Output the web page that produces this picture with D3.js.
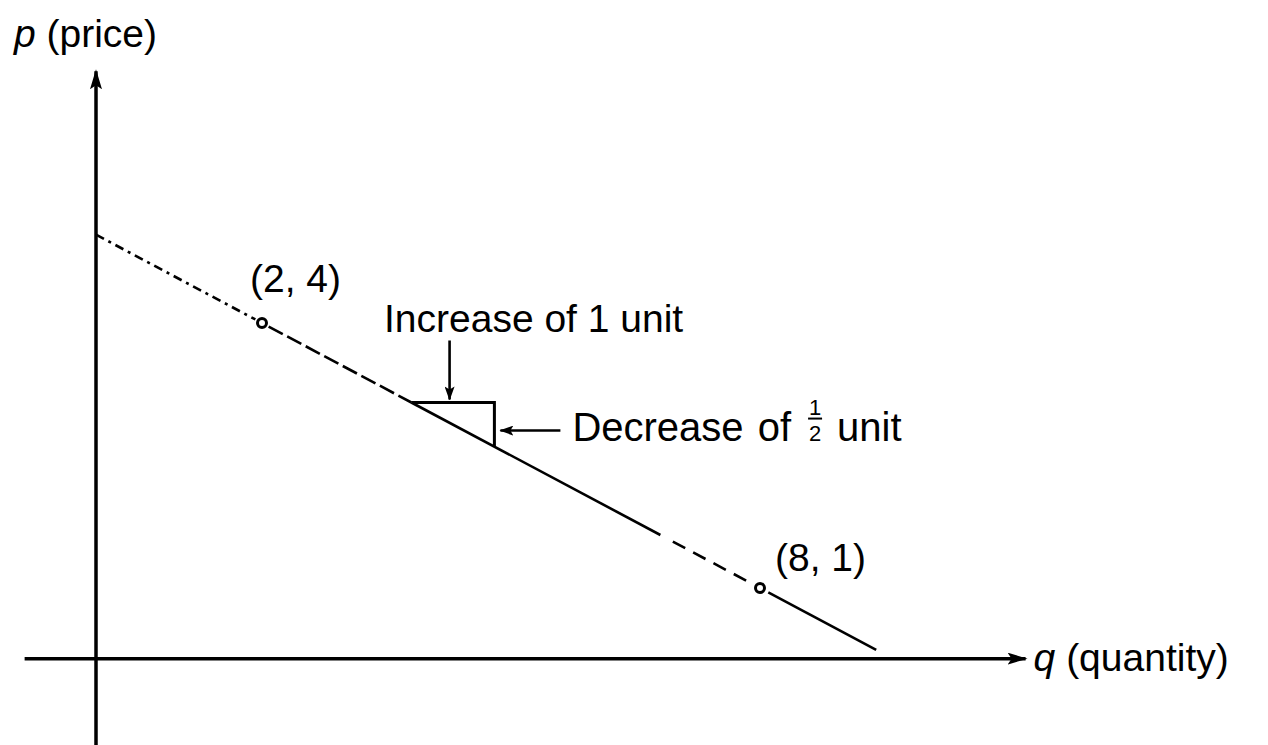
<!DOCTYPE html>
<html>
<head>
<meta charset="utf-8">
<script src="https://cdn.jsdelivr.net/npm/d3@7"></script>
<style>
  body { margin: 0; background: #fff; }
  text { font-family: "Liberation Sans", Arial, sans-serif; fill: #000; }
</style>
</head>
<body>
<svg id="chart" width="1268" height="745"></svg>
<script>
const WIDTH = 1268, HEIGHT = 745

// demand line p = 5 - q/2, two marked points
const intercept = 5
const slope = -0.5
const points = [[2, 4], [8, 1]]
const pointLabels = ['(2, 4)', '(8, 1)']

// pieces of the line as printed (q from, q to)
const lineSegments = [[0, 1.92], [2.08, 3.8], [3.8, 6.8], [6.95, 7.9], [8.1, 9.4]]
const segmentDash = ['9,5,3,5', '16,5', null, '14,9', null]

// slope triangle: run of 1 unit, fall of 1/2 unit
const triStart = 3.8
const triRun = 1

// axes extents (data units); drawn q-axis sits a touch above p = 0
const qAxisRange = [-0.86, 11.2]
const pAxisRange = [-0.8, 6.85]
const axisP = 0.2
const axisQ = 0

const x = d3.scaleLinear().domain([0, 8]).range([96, 760])
const y = d3.scaleLinear().domain([0, 4]).range([676.3, 323])
const price = q => intercept + slope * q

let svg = d3.select('#chart')

let defs = svg.append('defs')
defs.append('marker')
    .attr('id', 'head')
    .attr('viewBox', '0 0 20 12')
    .attr('refX', 18)
    .attr('refY', 6)
    .attr('markerWidth', 20)
    .attr('markerHeight', 12)
    .attr('markerUnits', 'userSpaceOnUse')
    .attr('orient', 'auto')
    .append('path')
    .attr('d', 'M0,0 L20,6 L0,12 L4,6 Z')
    .attr('fill', '#000')

defs.append('marker')
    .attr('id', 'small')
    .attr('viewBox', '0 0 14 10')
    .attr('refX', 13)
    .attr('refY', 5)
    .attr('markerWidth', 14)
    .attr('markerHeight', 10)
    .attr('markerUnits', 'userSpaceOnUse')
    .attr('orient', 'auto')
    .append('path')
    .attr('d', 'M0,0 L14,5 L0,10 L3,5 Z')
    .attr('fill', '#000')

// axes
svg.append('line')
    .attr('x1', x(qAxisRange[0])).attr('x2', x(qAxisRange[1]))
    .attr('y1', y(axisP)).attr('y2', y(axisP))
    .attr('stroke', '#000').attr('stroke-width', 3.5)
    .attr('marker-end', 'url(#head)')

svg.append('line')
    .attr('x1', x(axisQ)).attr('x2', x(axisQ))
    .attr('y1', y(pAxisRange[0])).attr('y2', y(pAxisRange[1]))
    .attr('stroke', '#000').attr('stroke-width', 3.5)
    .attr('marker-end', 'url(#head)')

// axis titles
let pTitle = svg.append('text')
    .attr('x', 14).attr('y', 47)
    .style('font-size', '39px')
pTitle.append('tspan').style('font-style', 'italic').text('p')
pTitle.append('tspan').text(' (price)')

let qTitle = svg.append('text')
    .attr('x', x(qAxisRange[1]) + 8).attr('y', y(axisP) + 12)
    .style('font-size', '39px')
qTitle.append('tspan').style('font-style', 'italic').text('q')
qTitle.append('tspan').text(' (quantity)')

// the line, in pieces
svg.selectAll('line.seg')
    .data(lineSegments)
    .join('line')
    .attr('class', 'seg')
    .attr('x1', d => x(d[0])).attr('y1', d => y(price(d[0])))
    .attr('x2', d => x(d[1])).attr('y2', d => y(price(d[1])))
    .attr('stroke', '#000')
    .attr('stroke-width', 2.6)
    .attr('stroke-dasharray', (d, i) => segmentDash[i])

// slope triangle
let tq0 = triStart, tq1 = triStart + triRun
svg.append('path')
    .attr('d', 'M' + x(tq0) + ',' + y(price(tq0)) +
               ' H' + x(tq1) + ' V' + y(price(tq1)))
    .attr('fill', 'none')
    .attr('stroke', '#000')
    .attr('stroke-width', 3)

// marked points
svg.selectAll('circle.pt')
    .data(points)
    .join('circle')
    .attr('class', 'pt')
    .attr('cx', d => x(d[0])).attr('cy', d => y(d[1]))
    .attr('r', 4.5)
    .attr('fill', '#fff')
    .attr('stroke', '#000')
    .attr('stroke-width', 3)

svg.selectAll('text.ptlab')
    .data(points)
    .join('text')
    .attr('class', 'ptlab')
    .attr('x', (d, i) => x(d[0]) + (i == 0 ? -12 : 15))
    .attr('y', (d, i) => y(d[1]) + (i == 0 ? -31 : -17))
    .style('font-size', '39px')
    .text((d, i) => pointLabels[i])

// "Increase of 1 unit" with arrow down to the run
let topY = y(price(tq0))
let midRun = x(tq0 + triRun * 0.46)
svg.append('text')
    .attr('x', 384).attr('y', topY - 70)
    .style('font-size', '39px')
    .text('Increase of 1 unit')

svg.append('line')
    .attr('x1', midRun).attr('x2', midRun)
    .attr('y1', topY - 62).attr('y2', topY - 3)
    .attr('stroke', '#000').attr('stroke-width', 2.6)
    .attr('marker-end', 'url(#small)')

// "Decrease of 1/2 unit" with arrow left to the fall
let fallMid = (y(price(tq0)) + y(price(tq1))) / 2 + 6
svg.append('line')
    .attr('x1', x(tq1) + 66).attr('x2', x(tq1) + 6)
    .attr('y1', fallMid).attr('y2', fallMid)
    .attr('stroke', '#000').attr('stroke-width', 2.6)
    .attr('marker-end', 'url(#small)')

let decX = x(tq1) + 78
let base = fallMid + 10
let dec = svg.append('text')
    .attr('x', decX).attr('y', base)
    .style('font-size', '40px')
    .style('word-spacing', '3px')
    .text('Decrease of')
let decW = dec.node().getComputedTextLength()

let fx = decX + decW + 24
svg.append('text')
    .attr('x', fx).attr('y', base - 26)
    .attr('text-anchor', 'middle')
    .style('font-size', '22px')
    .text('1')
svg.append('line')
    .attr('x1', fx - 7).attr('x2', fx + 7)
    .attr('y1', base - 22).attr('y2', base - 22)
    .attr('stroke', '#000').attr('stroke-width', 2)
svg.append('text')
    .attr('x', fx).attr('y', base)
    .attr('text-anchor', 'middle')
    .style('font-size', '22px')
    .text('2')

svg.append('text')
    .attr('x', fx + 22).attr('y', base)
    .style('font-size', '40px')
    .text('unit')
</script>
</body>
</html>
